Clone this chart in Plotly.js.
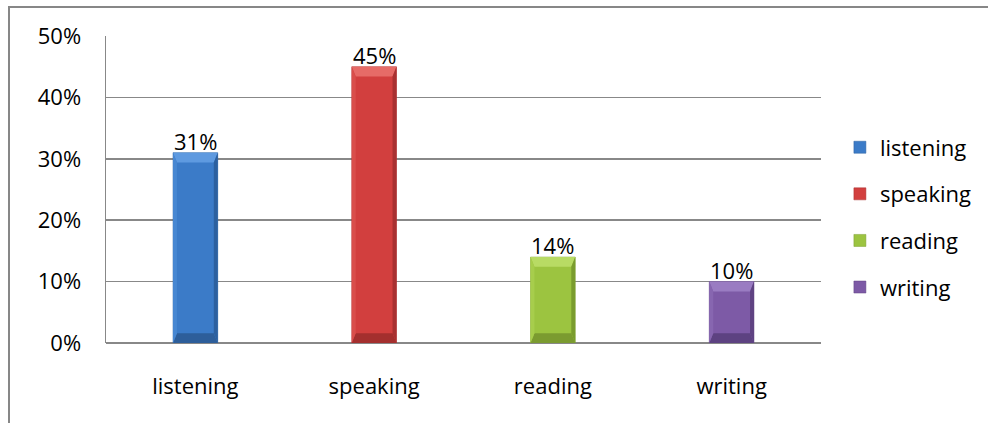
<!DOCTYPE html>
<html>
<head>
<meta charset="utf-8">
<script src="https://cdn.plot.ly/plotly-3.0.1.min.js"></script>
<style>
  html, body { margin: 0; padding: 0; background: #fff; }
  #wrap { position: relative; width: 988px; height: 423px; overflow: hidden; }
  #chart { position: absolute; left: 0; top: 0; width: 988px; height: 423px; }
  #frame { position: absolute; left: 8px; top: 6px; width: 990px; height: 430px;
           border-top: 2px solid #878787; border-left: 2px solid #878787; pointer-events: none; }
</style>
</head>
<body>
<div id="wrap">
  <div id="chart"></div>
  <div id="frame"></div>
</div>
<script>
const categories = ['listening', 'speaking', 'reading', 'writing'];
const values = [0.31, 0.45, 0.14, 0.10];
const yTickValues = [0, 0.1, 0.2, 0.3, 0.4, 0.5];
const yTickLabels = ['0%', '10%', '20%', '30%', '40%', '50%'];

// colour styles: body, top bevel, left edge, right edge, bottom bevel
const fillColors   = ['#3b7bc8', '#d23f3e', '#9cc440', '#7d5aa6'];
const topColors    = ['#5e9ae0', '#e66b67', '#b8db64', '#9a7cc2'];
const leftColors   = ['#4787d2', '#d94e4b', '#a7cd4c', '#8766b0'];
const rightColors  = ['#2c609f', '#a83131', '#7a9c2e', '#5f4382'];
const bottomColors = ['#2d5e9a', '#a42f2e', '#7b9b30', '#5d4281'];
const FONT = '"Open Sans", "DejaVu Sans", sans-serif';
const BAR_W = 0.25;

const traces = categories.map((c, i) => ({
  type: 'bar',
  name: c,
  x: [c],
  y: [values[i]],
  width: BAR_W,
  legendgroup: c,
  marker: { color: fillColors[i], line: { color: rightColors[i], width: 0.5 } },
  hoverinfo: 'x+y'
}));

// bevel decoration derived from each bar's value
const dx = 0.022, dy = 0.016;
const shapes = [];
categories.forEach((c, i) => {
  const v = values[i], xl = i - BAR_W / 2, xr = i + BAR_W / 2;
  const mk = (path, col) => ({ type: 'path', xref: 'x', yref: 'y', path, fillcolor: col, line: { width: 0 }, layer: 'above' });
  shapes.push(mk(`M${xl},${v} L${xr},${v} L${xr - dx},${v - dy} L${xl + dx},${v - dy} Z`, topColors[i]));
  shapes.push(mk(`M${xl},0 L${xr},0 L${xr - dx},${dy} L${xl + dx},${dy} Z`, bottomColors[i]));
  shapes.push(mk(`M${xl},0 L${xl},${v} L${xl + dx},${v - dy} L${xl + dx},${dy} Z`, leftColors[i]));
  shapes.push(mk(`M${xr},0 L${xr},${v} L${xr - dx},${v - dy} L${xr - dx},${dy} Z`, rightColors[i]));
});

const annotations = categories.map((c, i) => ({
  x: c, y: values[i], xref: 'x', yref: 'y',
  text: Math.round(values[i] * 100) + '%',
  showarrow: false, yanchor: 'bottom', yshift: -5,
  font: { family: FONT, size: 22, color: '#000' }
}));

const layout = {
  width: 988, height: 423,
  margin: { l: 106, r: 166, t: 36, b: 80, pad: 0 },
  paper_bgcolor: '#ffffff',
  plot_bgcolor: '#ffffff',
  barmode: 'overlay',
  font: { family: FONT, size: 22, color: '#000' },
  showlegend: true,
  legend: {
    x: 1.025, xanchor: 'left', y: 0.409, yanchor: 'middle',
    font: { family: FONT, size: 22, color: '#000' },
    traceorder: 'grouped', tracegroupgap: 15,
    bgcolor: 'rgba(0,0,0,0)'
  },
  shapes,
  annotations,
  xaxis: {
    type: 'category',
    categoryarray: categories,
    range: [-0.5, 3.5],
    showgrid: false,
    showline: false,
    zeroline: false,
    ticks: '',
    ticklabelstandoff: 28,
    tickfont: { family: FONT, size: 22, color: '#000' },
    fixedrange: true
  },
  yaxis: {
    range: [0, 0.5],
    tickvals: yTickValues,
    ticktext: yTickLabels,
    showgrid: true,
    gridcolor: '#888888',
    gridwidth: 1.5,
    showline: true,
    linecolor: '#888888',
    linewidth: 1.5,
    zeroline: true,
    zerolinecolor: '#888888',
    zerolinewidth: 1.5,
    ticks: '',
    ticklabelstandoff: 19,
    tickfont: { family: FONT, size: 22, color: '#000' },
    fixedrange: true
  }
};

Plotly.newPlot('chart', traces, layout, { displayModeBar: false, staticPlot: true });
</script>
</body>
</html>
